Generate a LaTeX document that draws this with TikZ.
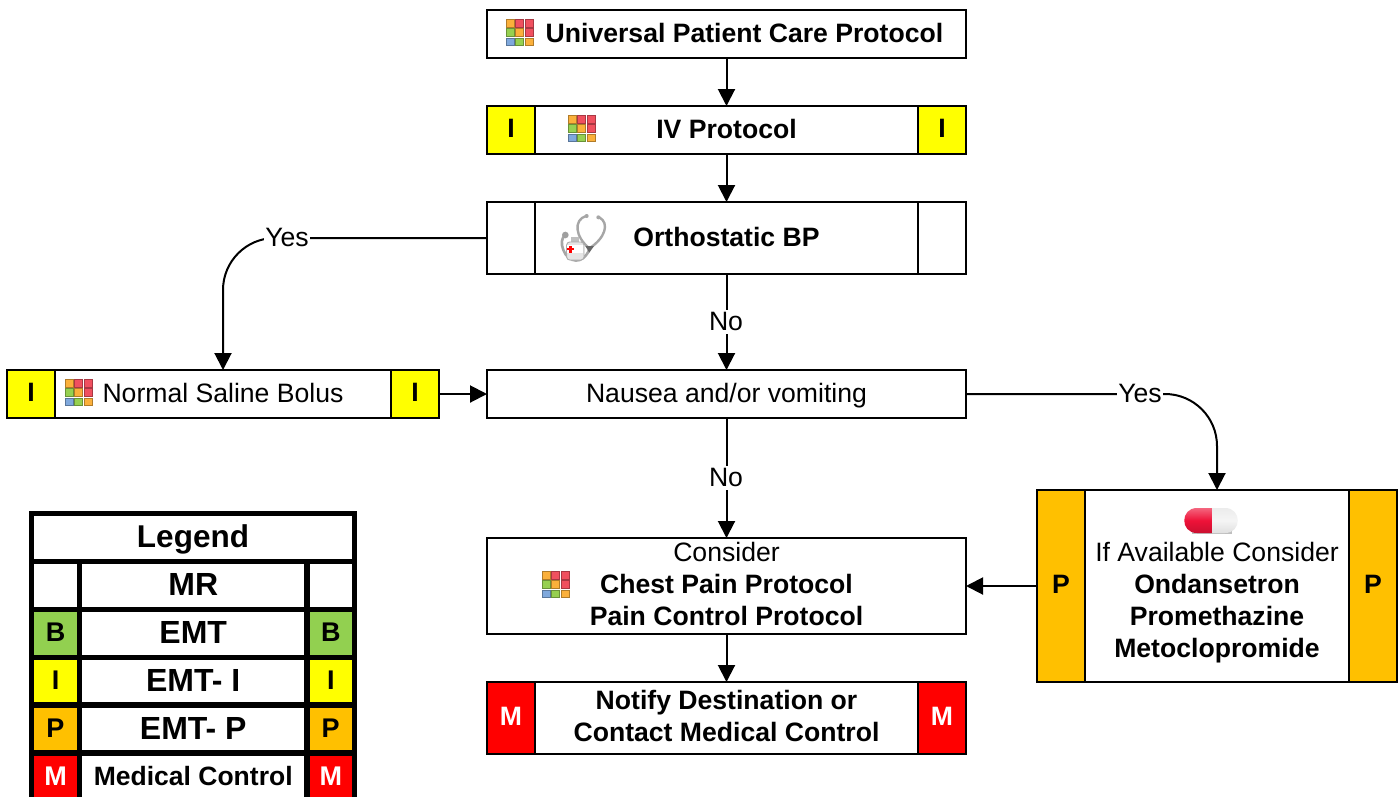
\documentclass[tikz,border=0pt]{standalone}
\usepackage{fontspec}
\setmainfont{Liberation Sans}
\usetikzlibrary{arrows.meta}
\definecolor{pyellow}{HTML}{FFFF00}
\definecolor{porange}{HTML}{FFC000}
\definecolor{pgreen}{HTML}{92D050}
\definecolor{pred}{HTML}{FF0000}
\definecolor{iO}{HTML}{FBB03B}
\definecolor{iR}{HTML}{F0505F}
\definecolor{iG}{HTML}{96D050}
\definecolor{iB}{HTML}{7FA8DC}
\definecolor{pillred}{HTML}{EE1238}
\newcommand{\mainfs}{\fontsize{26.6}{32}\selectfont}
\tikzset{
  x=1pt,y=-1pt,
  box/.style={draw=black,line width=2pt,fill=white,inner sep=0pt,outer sep=0pt,align=center,font=\mainfs,text depth=3pt},
  sidebox/.style={box,minimum width=48pt,font=\mainfs\bfseries},
  flow/.style={line width=2pt,draw=black,-{Triangle[length=17pt,width=17pt]}},
  curved/.style={flow,rounded corners=52pt},
  lbl/.style={fill=white,inner sep=1.5pt,font=\mainfs,text depth=2pt},
  lcell/.style={draw=black,line width=5.4pt,inner sep=0pt,outer sep=0pt,align=center,font=\fontsize{32}{32}\selectfont\bfseries,text depth=2pt},
  lside/.style={lcell,font=\fontsize{27}{32}\selectfont\bfseries},
  gridicon/.pic={
    \foreach \cx/\cy/\cc in {0/0/iO,1/0/iR,2/0/iR,0/1/iG,1/1/iO,2/1/iR,0/2/iB,1/2/iG,2/2/iO}{
      \fill[\cc,draw=\cc!70!black,line width=.6pt] (\cx*9.6+.5,\cy*9.2+.5) rectangle +(8,7.8);
    }
  },
}
\begin{document}
\begin{tikzpicture}
\useasboundingbox (0,0) rectangle (1398,796);
% main boxes
\node[box,minimum width=479pt,minimum height=48pt] (upcp) at (726.5,34) {\hspace{36pt}\bfseries Universal Patient Care Protocol};
\node[box,minimum width=479pt,minimum height=48pt] (iv) at (726.5,130) {\bfseries IV Protocol};
\node[sidebox,fill=pyellow,minimum height=48pt] (ivl) at (511,130) {I};
\node[sidebox,fill=pyellow,minimum height=48pt] (ivr) at (942,130) {I};
\node[box,minimum width=479pt,minimum height=72pt] (ortho) at (726.5,238) {\bfseries Orthostatic BP};
\node[sidebox,minimum height=72pt] (orthol) at (511,238) {};
\node[sidebox,minimum height=72pt] (orthor) at (942,238) {};
\node[box,minimum width=479pt,minimum height=48pt] (nausea) at (726.5,394) {Nausea and/or vomiting};
\node[box,minimum width=432pt,minimum height=48pt] (ns) at (223,394) {Normal Saline Bolus};
\node[sidebox,fill=pyellow,minimum height=48pt] (nsl) at (31,394) {I};
\node[sidebox,fill=pyellow,minimum height=48pt] (nsr) at (415,394) {I};
\node[box,text depth=5pt,minimum width=479pt,minimum height=96pt] (consider) at (726.5,586) {Consider\\\bfseries Chest Pain Protocol\\\bfseries Pain Control Protocol};
\node[box,text depth=5pt,minimum width=479pt,minimum height=72pt] (notify) at (726.5,718) {\bfseries Notify Destination or\\\bfseries Contact Medical Control};
\node[sidebox,fill=pred,text=white,minimum height=72pt] (notifyl) at (511,718) {M};
\node[sidebox,fill=pred,text=white,minimum height=72pt] (notifyr) at (942,718) {M};
\node[box,minimum width=360pt,minimum height=192pt] (meds) at (1217,586) {};
\node[inner sep=0pt,align=center,font=\mainfs,text depth=3pt] (medstext) at (1217,601) {If Available Consider\\\bfseries Ondansetron\\\bfseries Promethazine\\\bfseries Metoclopromide};
\node[sidebox,fill=porange,minimum height=192pt] (medsl) at (1061,586) {P};
\node[sidebox,fill=porange,minimum height=192pt] (medsr) at (1373,586) {P};
% connectors
\draw[flow] (upcp) -- (iv);
\draw[flow] (iv) -- (ortho);
\draw[flow] (ortho) -- (nausea);
\draw[flow] (nausea) -- (consider);
\draw[flow] (consider) -- (notify);
\draw[flow] (nsr) -- (nausea);
\draw[flow] (medsl.west |- consider.east) -- (consider.east);
\draw[curved] (ortho.west) -| (ns.north);
\draw[curved] (nausea.east) -| (meds.north);
\node[lbl] (yes1) at (287,238) {Yes};
\node[lbl] (no1) at (726,322) {No};
\node[lbl] (yes2) at (1140,394) {Yes};
\node[lbl] (no2) at (726,478) {No};
% icons
\pic at (505.5,19) {gridicon};
\pic at (567.5,115) {gridicon};
\pic at (64.5,379) {gridicon};
\pic at (541.5,571) {gridicon};
% stethoscope
\begin{scope}[shift={(530,200)},x=0.3333pt,y=-0.3333pt]
  \draw[gray!70,line width=2.4pt,line cap=round] (168,48) .. controls (130,60) and (135,110) .. (178,145);
  \draw[gray!70,line width=2.4pt,line cap=round] (208,52) .. controls (240,70) and (225,115) .. (178,145);
  \draw[gray!70,line width=2.6pt,line cap=round] (178,148) .. controls (160,195) and (115,190) .. (100,150) .. controls (92,130) and (95,115) .. (105,105);
  \fill[gray!80!black] (178,158) -- (166,138) -- (192,138) -- cycle;
  \fill[gray!75] (106,105) circle[radius=10];
  \fill[gray!70] (170,48) circle[radius=6];
  \fill[gray!70] (205,52) circle[radius=6];
  \fill[gray!50] (124,110) rectangle (148,128);
  \draw[gray!65,fill=gray!20,line width=.9pt,rounded corners=3pt] (110,126) rectangle (162,180);
  \fill[white] (111,136) rectangle (160,160);
  \fill[red] (112,144) rectangle (132,151);
  \fill[red] (118,137) rectangle (126,158);
\end{scope}
% pill
\fill[gray!50] (1192,530) rectangle (1232,534);
\shade[top color=pillred!65!white,bottom color=pillred!85!black,middle color=pillred] (1212,508) -- (1197,508) .. controls (1180,508) and (1180,533) .. (1197,533) -- (1212,533) -- cycle;
\shade[top color=gray!15,bottom color=gray!25,middle color=gray!8] (1212,508) -- (1225,508) .. controls (1242,508) and (1242,533) .. (1225,533) -- (1212,533) -- cycle;
% legend
\node[lcell,font=\fontsize{31.5}{32}\selectfont\bfseries,minimum width=323pt,minimum height=48pt] (lt) at (193,537.5) {Legend};
\node[lcell,minimum width=227.5pt,minimum height=48pt] (l1) at (193.25,585.5) {MR};
\node[lcell,minimum width=227.5pt,minimum height=48pt] (l2) at (193.25,633.5) {EMT};
\node[lcell,minimum width=227.5pt,minimum height=47.5pt] (l3) at (193.25,681.25) {EMT- I};
\node[lcell,minimum width=227.5pt,minimum height=48pt] (l4) at (193.25,729) {EMT- P};
\node[lcell,font=\fontsize{26.5}{32}\selectfont\bfseries,minimum width=227.5pt,minimum height=48pt] (l5) at (193.25,777) {Medical Control};
\node[lside,minimum width=48pt,minimum height=48pt] (a1) at (55.5,585.5) {};
\node[lside,minimum width=47.5pt,minimum height=48pt] (b1) at (330.75,585.5) {};
\node[lside,fill=pgreen,minimum width=48pt,minimum height=48pt] (a2) at (55.5,633.5) {B};
\node[lside,fill=pgreen,minimum width=47.5pt,minimum height=48pt] (b2) at (330.75,633.5) {B};
\node[lside,fill=pyellow,minimum width=48pt,minimum height=47.5pt] (a3) at (55.5,681.25) {I};
\node[lside,fill=pyellow,minimum width=47.5pt,minimum height=47.5pt] (b3) at (330.75,681.25) {I};
\node[lside,fill=porange,minimum width=48pt,minimum height=48pt] (a4) at (55.5,729) {P};
\node[lside,fill=porange,minimum width=47.5pt,minimum height=48pt] (b4) at (330.75,729) {P};
\node[lside,fill=pred,text=white,minimum width=48pt,minimum height=48pt] (a5) at (55.5,777) {M};
\node[lside,fill=pred,text=white,minimum width=47.5pt,minimum height=48pt] (b5) at (330.75,777) {M};
\end{tikzpicture}
\end{document}
